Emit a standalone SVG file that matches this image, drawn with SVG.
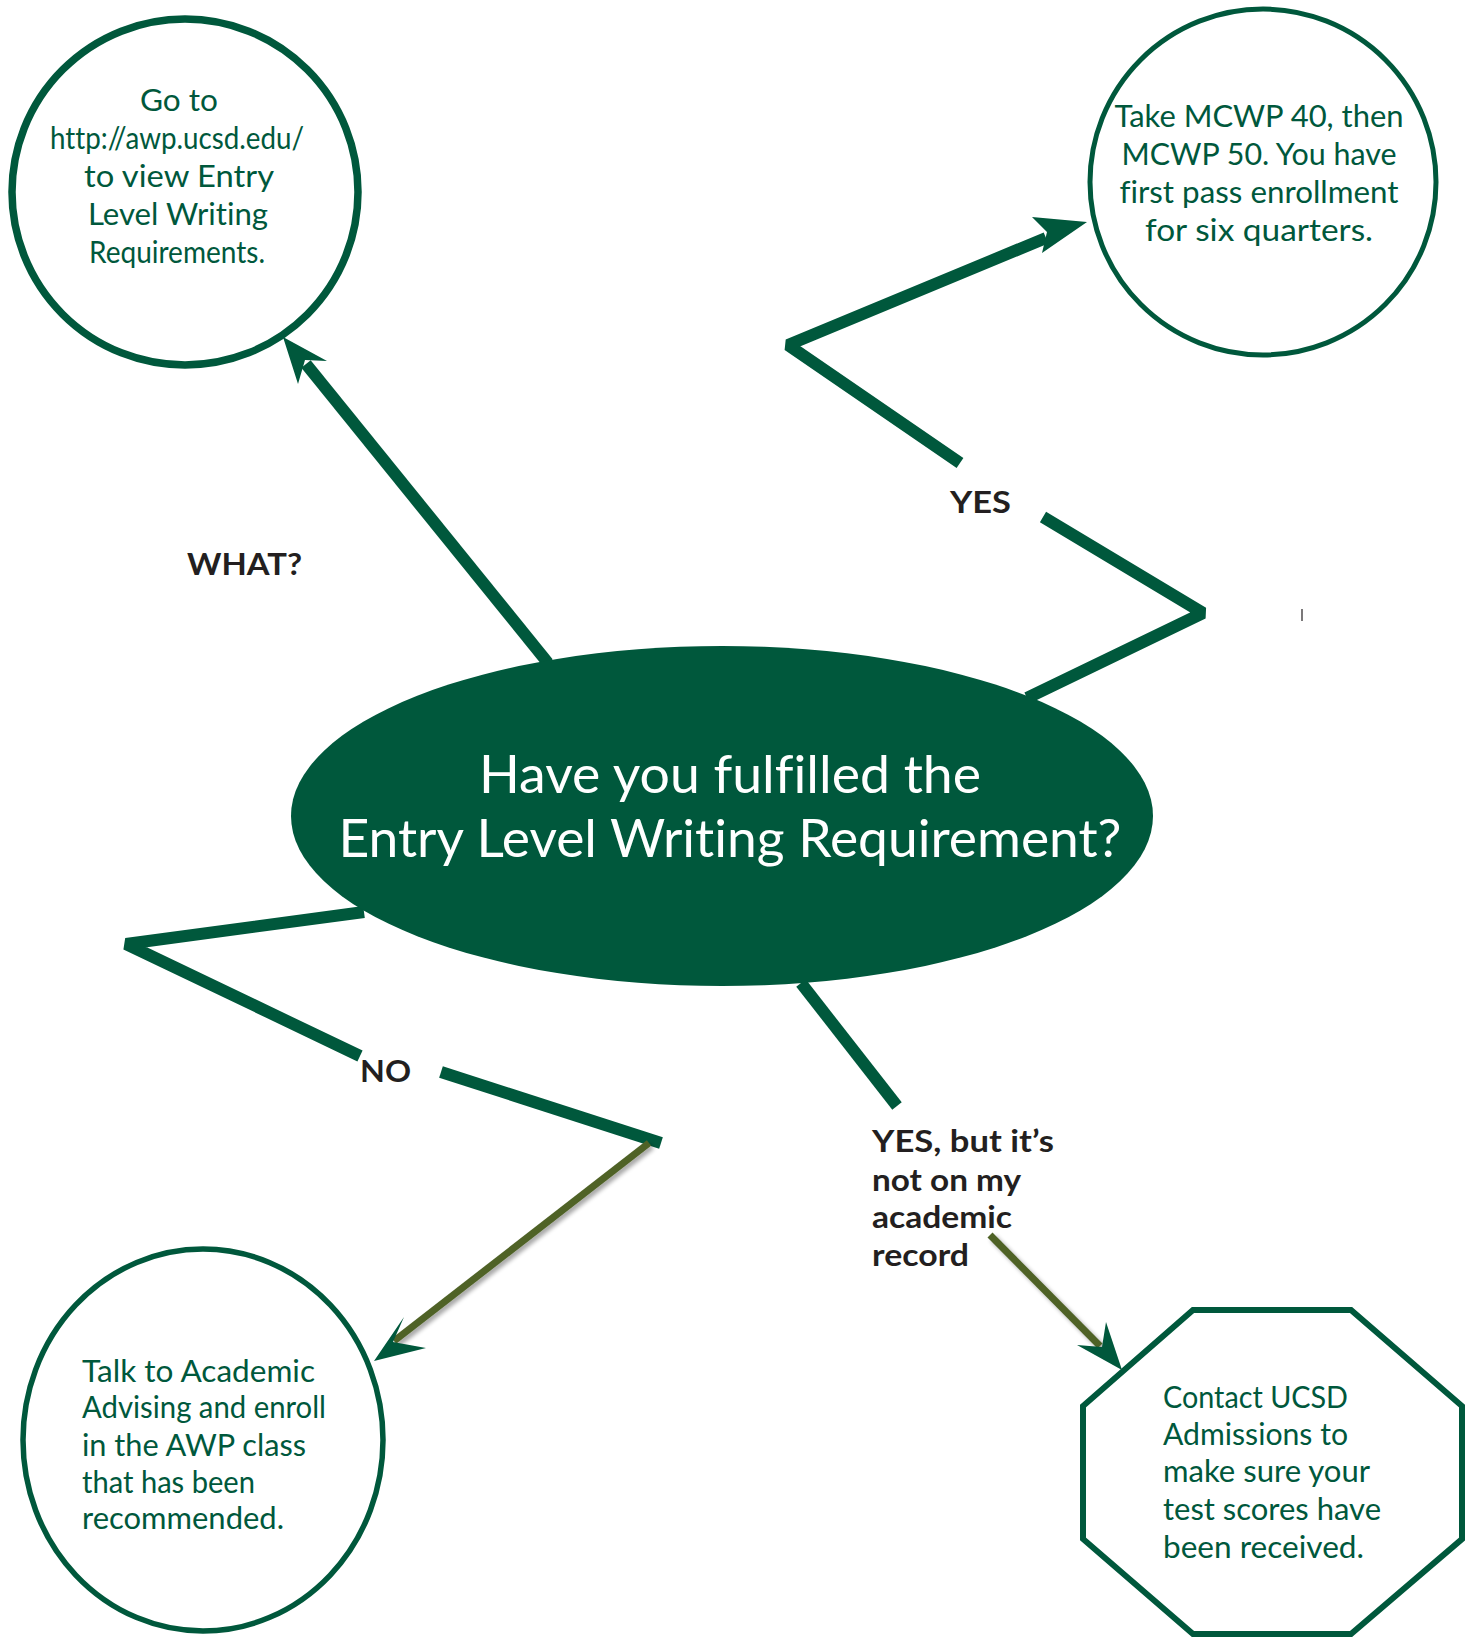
<svg xmlns="http://www.w3.org/2000/svg" width="1470" height="1637" viewBox="0 0 1470 1637">
<style>
text{font-variant-ligatures:none}
.node{fill:#ffffff;stroke:#00583c}
.nt{font-family:"Lato","Open Sans",sans-serif;font-size:30px;fill:#00583c}
.big{font-family:"Lato","Open Sans",sans-serif;font-size:52px;fill:#ffffff}
.lbl{font-family:"Lato","Liberation Sans",sans-serif;font-size:31px;font-weight:700;fill:#231f20}
.thick{fill:none;stroke:#00583c;stroke-width:12;stroke-linejoin:bevel;stroke-linecap:butt}
.olive{fill:none;stroke:#4f6228;stroke-width:7;stroke-linecap:butt}
.head{fill:#00583c}
</style>
<defs>
<filter id="sh" x="-20%" y="-20%" width="140%" height="140%">
<feGaussianBlur in="SourceAlpha" stdDeviation="2"/>
<feOffset dx="3" dy="3" result="b"/>
<feComponentTransfer><feFuncA type="linear" slope="0.35"/></feComponentTransfer>
<feMerge><feMergeNode/><feMergeNode in="SourceGraphic"/></feMerge>
</filter>
</defs>
<rect width="1470" height="1637" fill="#ffffff"/>

<g id="connectors">
<line class="thick" x1="548" y1="663" x2="306" y2="364"/>
<polygon class="head" points="283,337 327,361 305,360 298,384"/>
<polyline class="thick" points="1027,698 1203,613 1043,517"/>
<polyline class="thick" points="960,463 788,345 1046,238"/>
<polygon class="head" points="1087,222 1032,217 1047,232 1042,253"/>
<polyline class="thick" points="364,912 126,944 360,1056"/>
<polyline class="thick" points="441,1072 661,1143"/>
<line class="olive" filter="url(#sh)" x1="649" y1="1143" x2="394" y2="1341"/>
<polygon class="head" points="374,1361 404,1317 393,1342 426,1348"/>
<line class="thick" x1="801" y1="983" x2="897" y2="1106"/>
<line class="olive" filter="url(#sh)" x1="990" y1="1235" x2="1100" y2="1346"/>
<polygon class="head" points="1122,1370 1106,1322 1102,1347 1077,1345"/>
<line x1="1302" y1="609" x2="1302" y2="621" stroke="#231f20" stroke-width="1.2"/>
</g>

<g id="labels">
<text class="lbl" x="187" y="575" textLength="115" lengthAdjust="spacingAndGlyphs">WHAT?</text>
<text class="lbl" x="950" y="513" textLength="61" lengthAdjust="spacingAndGlyphs">YES</text>
<text class="lbl" x="360" y="1082" textLength="51" lengthAdjust="spacingAndGlyphs">NO</text>
<text class="lbl" x="872" y="1152" textLength="182" lengthAdjust="spacingAndGlyphs">YES, but it’s</text>
<text class="lbl" x="872" y="1191" textLength="149" lengthAdjust="spacingAndGlyphs">not on my</text>
<text class="lbl" x="872" y="1228" textLength="140" lengthAdjust="spacingAndGlyphs">academic</text>
<text class="lbl" x="872" y="1266" textLength="97" lengthAdjust="spacingAndGlyphs">record</text>
</g>

<g id="question">
<ellipse cx="722" cy="816" rx="431" ry="170" fill="#00583c"/>
<text class="big" x="730" y="793" text-anchor="middle" textLength="502" lengthAdjust="spacingAndGlyphs">Have you fulfilled the</text>
<text class="big" x="730" y="857" text-anchor="middle" textLength="783" lengthAdjust="spacingAndGlyphs">Entry Level Writing Requirement?</text>
</g>

<g id="what-node">
<circle class="node" cx="185" cy="192" r="173" stroke-width="7.5"/>
<text class="nt" x="179" y="111" text-anchor="middle" textLength="78" lengthAdjust="spacingAndGlyphs">Go to</text>
<text class="nt" x="177" y="149" text-anchor="middle" textLength="254" lengthAdjust="spacingAndGlyphs">http://awp.ucsd.edu/</text>
<text class="nt" x="179" y="187" text-anchor="middle" textLength="190" lengthAdjust="spacingAndGlyphs">to view Entry</text>
<text class="nt" x="178" y="225" text-anchor="middle" textLength="180" lengthAdjust="spacingAndGlyphs">Level Writing</text>
<text class="nt" x="177" y="263" text-anchor="middle" textLength="176" lengthAdjust="spacingAndGlyphs">Requirements.</text>
</g>

<g id="yes-node">
<circle class="node" cx="1263" cy="182" r="173" stroke-width="5"/>
<text class="nt" x="1259" y="127" text-anchor="middle" textLength="289" lengthAdjust="spacingAndGlyphs">Take MCWP 40, then</text>
<text class="nt" x="1259" y="165" text-anchor="middle" textLength="275" lengthAdjust="spacingAndGlyphs">MCWP 50. You have</text>
<text class="nt" x="1259" y="203" text-anchor="middle" textLength="279" lengthAdjust="spacingAndGlyphs">first pass enrollment</text>
<text class="nt" x="1259" y="241" text-anchor="middle" textLength="228" lengthAdjust="spacingAndGlyphs">for six quarters.</text>
</g>

<g id="no-node">
<ellipse class="node" cx="203" cy="1440" rx="180" ry="191" stroke-width="5.5"/>
<text class="nt" x="82" y="1382" textLength="233" lengthAdjust="spacingAndGlyphs">Talk to Academic</text>
<text class="nt" x="82" y="1418" textLength="244" lengthAdjust="spacingAndGlyphs">Advising and enroll</text>
<text class="nt" x="82" y="1456" textLength="224" lengthAdjust="spacingAndGlyphs">in the AWP class</text>
<text class="nt" x="82" y="1493" textLength="173" lengthAdjust="spacingAndGlyphs">that has been</text>
<text class="nt" x="82" y="1529" textLength="202" lengthAdjust="spacingAndGlyphs">recommended.</text>
</g>

<g id="record-node">
<polygon class="node" stroke-width="6" points="1193,1310 1351,1310 1462,1406 1462,1539 1351,1634 1193,1634 1083,1539 1083,1406"/>
<text class="nt" x="1163" y="1408" textLength="185" lengthAdjust="spacingAndGlyphs">Contact UCSD</text>
<text class="nt" x="1163" y="1445" textLength="185" lengthAdjust="spacingAndGlyphs">Admissions to</text>
<text class="nt" x="1163" y="1482" textLength="207" lengthAdjust="spacingAndGlyphs">make sure your</text>
<text class="nt" x="1163" y="1520" textLength="218" lengthAdjust="spacingAndGlyphs">test scores have</text>
<text class="nt" x="1163" y="1558" textLength="201" lengthAdjust="spacingAndGlyphs">been received.</text>
</g>
</svg>
